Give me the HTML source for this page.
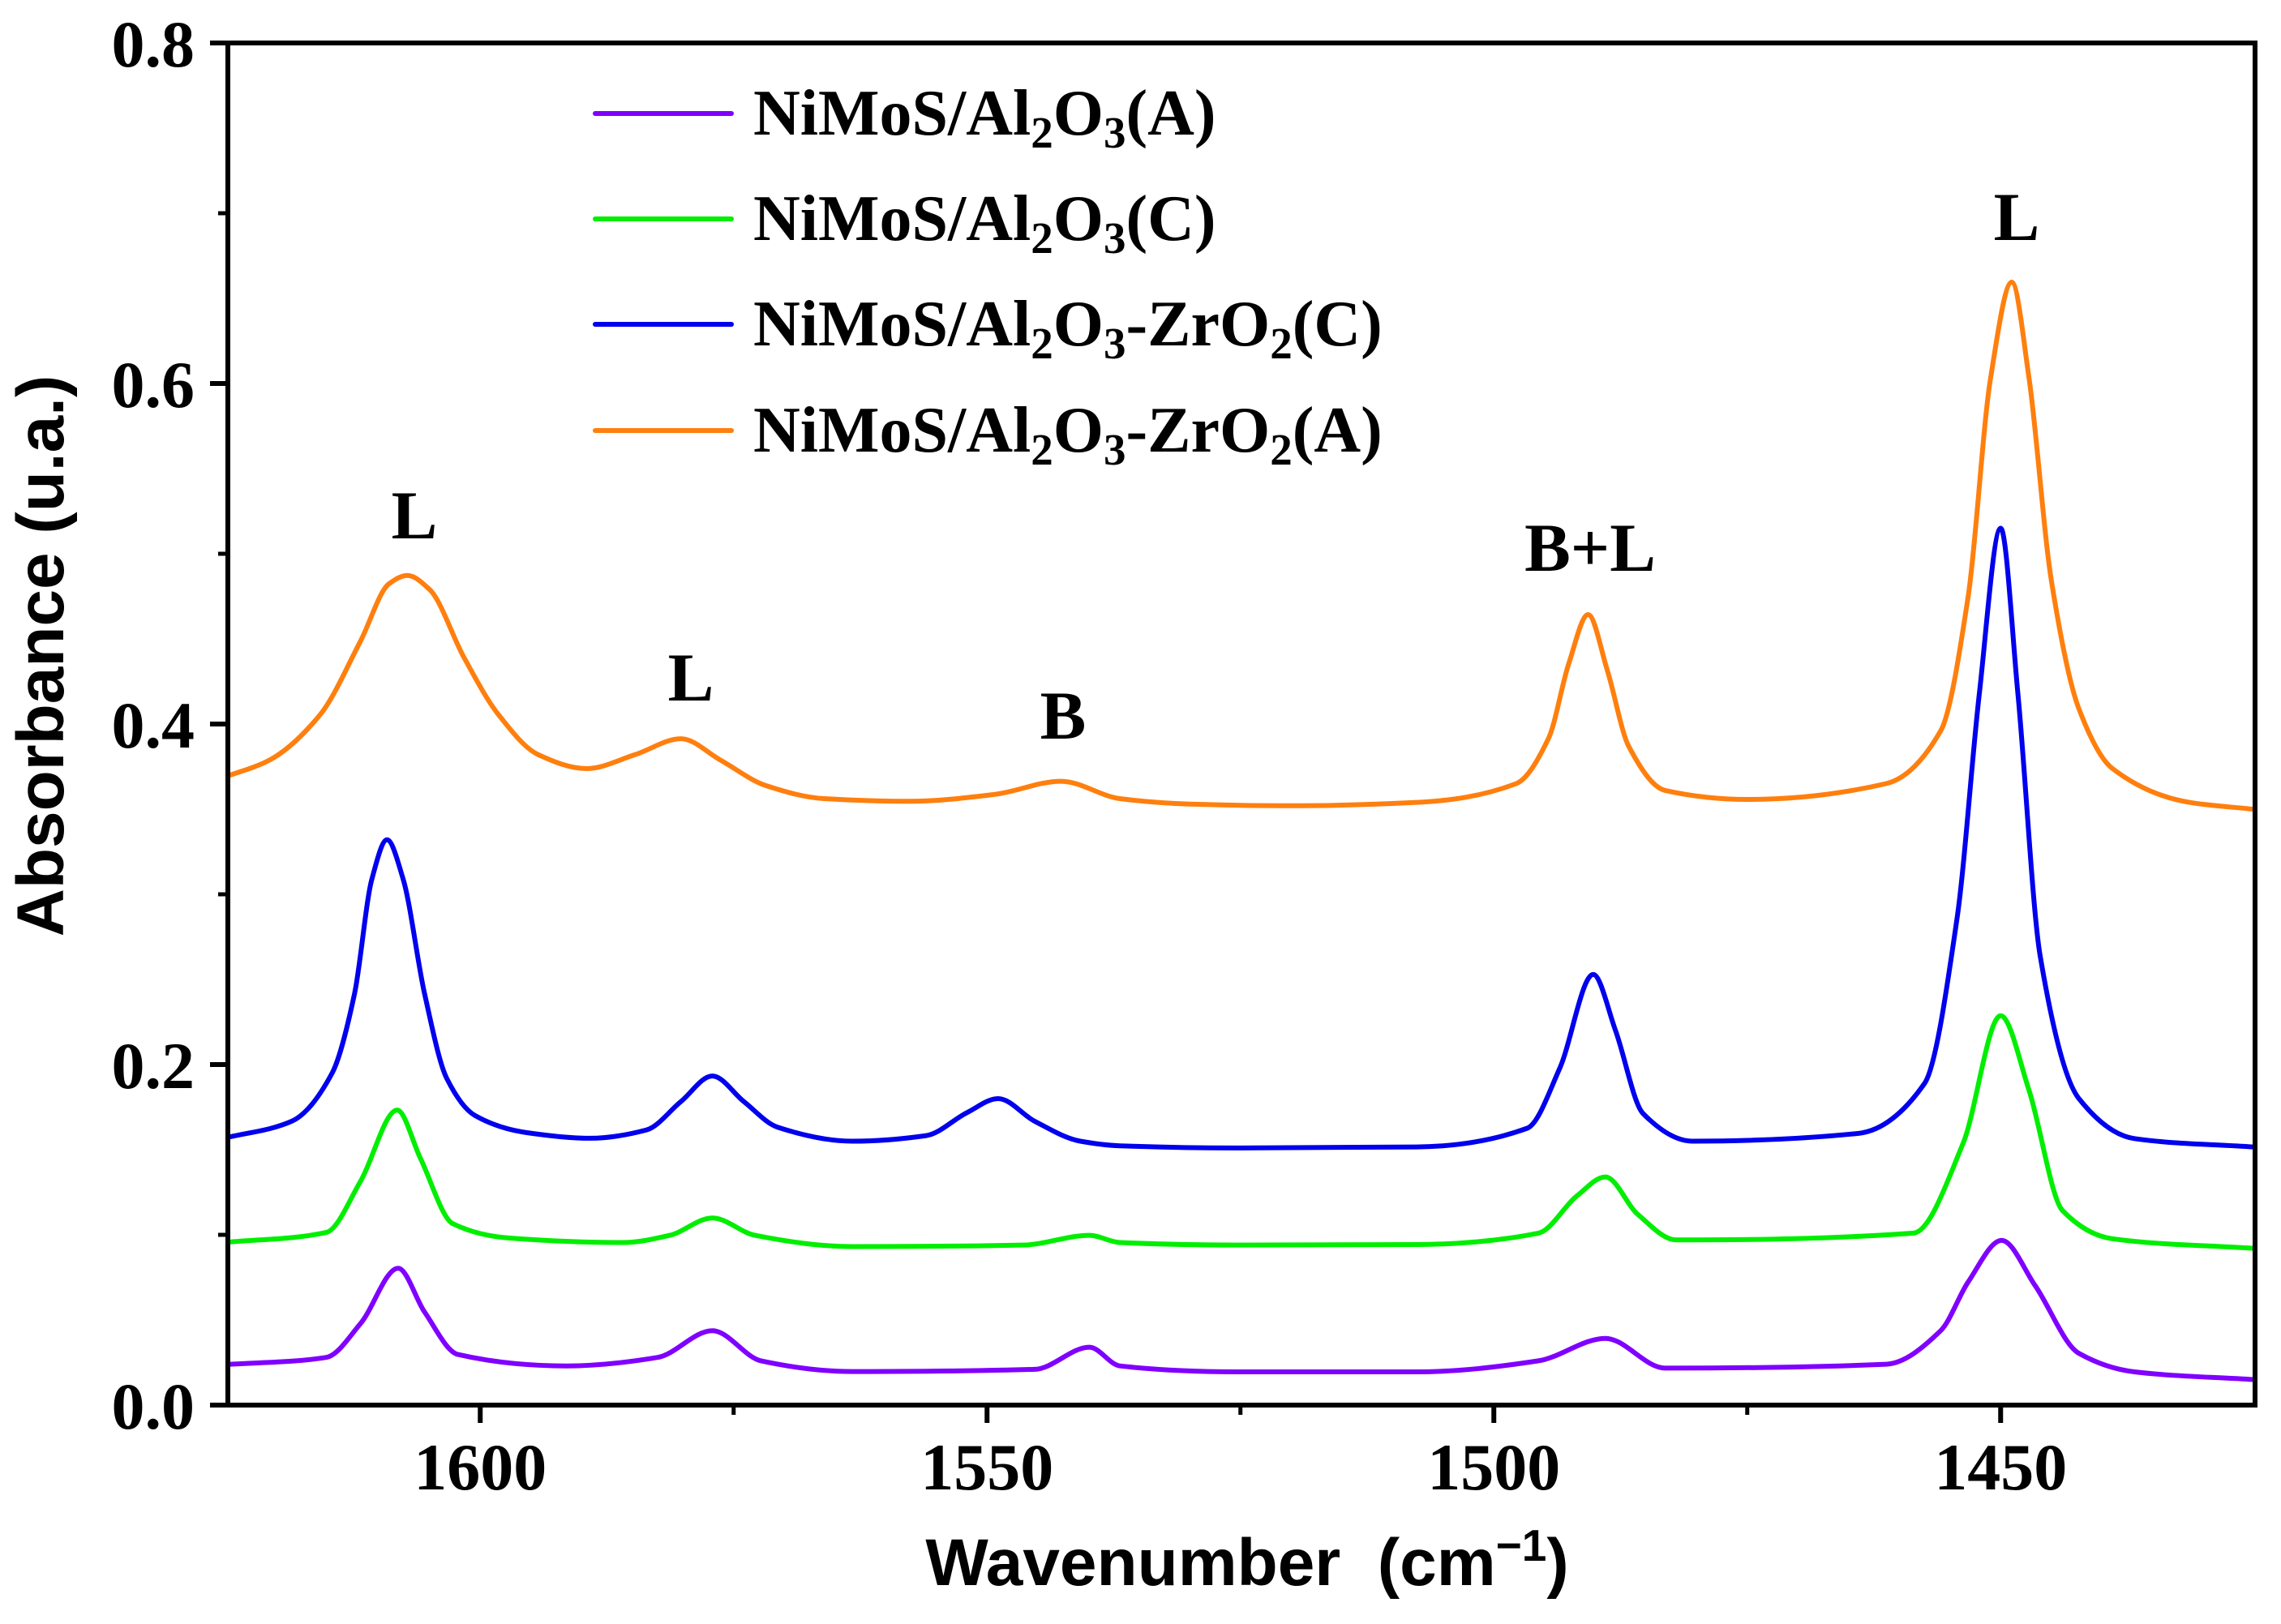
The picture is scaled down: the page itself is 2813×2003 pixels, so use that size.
<!DOCTYPE html>
<html><head><meta charset="utf-8"><style>
html,body{margin:0;padding:0;background:#fff}
svg{display:block}
</style></head><body>
<svg id="chart" width="2813" height="2003" viewBox="0 0 2813 2003" xmlns="http://www.w3.org/2000/svg">
<rect width="2813" height="2003" fill="#fff"/>
<g id="series"></g>
<g id="axes"></g>
<g id="legend" font-family="'Liberation Serif', serif" font-weight="bold" font-size="80">
  <line x1="734" y1="140" x2="902" y2="140" stroke="#8000ff" stroke-width="6" stroke-linecap="round"/>
  <text x="929" y="166">NiMoS/Al<tspan font-size="55" dy="16">2</tspan><tspan dy="-16">O</tspan><tspan font-size="55" dy="16">3</tspan><tspan dy="-16">(A)</tspan></text>
  <line x1="734" y1="270" x2="902" y2="270" stroke="#00ee00" stroke-width="6" stroke-linecap="round"/>
  <text x="929" y="296">NiMoS/Al<tspan font-size="55" dy="16">2</tspan><tspan dy="-16">O</tspan><tspan font-size="55" dy="16">3</tspan><tspan dy="-16">(C)</tspan></text>
  <line x1="734" y1="400" x2="902" y2="400" stroke="#0000ee" stroke-width="6" stroke-linecap="round"/>
  <text x="929" y="426">NiMoS/Al<tspan font-size="55" dy="16">2</tspan><tspan dy="-16">O</tspan><tspan font-size="55" dy="16">3</tspan><tspan dy="-16">-ZrO</tspan><tspan font-size="55" dy="16">2</tspan><tspan dy="-16">(C)</tspan></text>
  <line x1="734" y1="531" x2="902" y2="531" stroke="#ff7f0e" stroke-width="6" stroke-linecap="round"/>
  <text x="929" y="557">NiMoS/Al<tspan font-size="55" dy="16">2</tspan><tspan dy="-16">O</tspan><tspan font-size="55" dy="16">3</tspan><tspan dy="-16">-ZrO</tspan><tspan font-size="55" dy="16">2</tspan><tspan dy="-16">(A)</tspan></text>
</g>
<g font-family="'Liberation Serif', serif" font-weight="bold" font-size="85" text-anchor="middle">
  <text x="511" y="664">L</text>
  <text x="852" y="864">L</text>
  <text x="1311" y="911">B</text>
  <text x="1961" y="704">B+L</text>
  <text x="2487" y="296">L</text>
</g>
<text transform="translate(78,809) rotate(-90)" text-anchor="middle" font-family="'Liberation Sans', sans-serif" font-weight="bold" font-size="82">Absorbance (u.a.)</text>
<text x="1538" y="1955" text-anchor="middle" style="white-space:pre" font-family="'Liberation Sans', sans-serif" font-weight="bold" font-size="82">Wavenumber  (cm<tspan font-size="55" dy="-30">−1</tspan><tspan dy="30">)</tspan></text>
</svg>
<script>
// ---- data ----
const xTicks = [1600, 1550, 1500, 1450];
const xMinorTicks = [1575, 1525, 1475];
const yTicks = [0.0, 0.2, 0.4, 0.6, 0.8];
const yTickLabels = ["0.0", "0.2", "0.4", "0.6", "0.8"];
const yMinorTicks = [0.1, 0.3, 0.5, 0.7];

const purpleX = [1625.3,1615.2,1611.8,1608.1,1605.5,1602.2,1591.5,1582.5,1577.1,1572.3,1563.3,1545.3,1539.9,1536.9,1525,1507.6,1495.6,1489.0,1483.1,1461.3,1455.9,1453.2,1449.9,1446.6,1442.3,1436.8,1425.1];
const purpleY = [0.0237,0.028,0.048,0.0804,0.0547,0.0297,0.023,0.028,0.0437,0.026,0.0197,0.021,0.034,0.023,0.0195,0.0195,0.026,0.0392,0.0217,0.024,0.0438,0.0724,0.0967,0.0702,0.0305,0.0195,0.015];

const greenX = [1625.3,1615.2,1611.8,1608.2,1605.9,1602.7,1597.1,1585.9,1581.3,1577.1,1572.9,1563.3,1546.4,1539.9,1536.9,1525,1507.6,1495.6,1491.8,1489.0,1485.8,1482.0,1458.6,1453.7,1450.0,1447.2,1443.9,1439.0,1425.1];
const greenY = [0.0955,0.1014,0.1316,0.1733,0.1449,0.1065,0.0981,0.0955,0.0997,0.1099,0.0997,0.0931,0.094,0.0997,0.0955,0.094,0.0943,0.101,0.1229,0.134,0.112,0.097,0.101,0.1538,0.2287,0.1848,0.1143,0.0977,0.0921];

const blueX = [1625.3,1618.6,1614.6,1612.4,1610.7,1609.2,1607.6,1605.5,1603.3,1600.5,1595.4,1589.2,1583.6,1580.2,1577.1,1574.0,1570.7,1563.3,1556.0,1552.0,1548.9,1545.3,1540.8,1536.9,1525,1507.6,1496.7,1493.5,1490.2,1488.0,1485.3,1480.4,1464.1,1457.5,1454.3,1452.1,1450.0,1448.3,1446.1,1442.3,1436.8,1425.1];
const blueY = [0.1567,0.1667,0.1952,0.2418,0.3087,0.332,0.3087,0.2418,0.1918,0.17,0.16,0.1567,0.1616,0.1783,0.1933,0.1783,0.1633,0.155,0.1583,0.1717,0.18,0.1667,0.155,0.1523,0.151,0.1516,0.1626,0.1978,0.2529,0.22,0.1714,0.155,0.1595,0.189,0.2859,0.418,0.515,0.418,0.2638,0.1802,0.1565,0.1516];

const orangeX = [1625.3,1620.8,1615.8,1611.8,1609.0,1607.2,1605.0,1601.6,1598.2,1594.3,1589.5,1584.7,1580.2,1576.3,1571.8,1566.1,1557.6,1549.2,1542.7,1536.9,1530,1520,1507.6,1497.8,1494.6,1492.6,1490.7,1488.8,1486.7,1483.1,1474.9,1461.3,1455.9,1453.2,1451.0,1448.9,1447.2,1445.0,1442.3,1439.0,1431.4,1425.1];
const orangeY = [0.3687,0.3788,0.4055,0.4489,0.4824,0.4873,0.479,0.439,0.4055,0.3821,0.3738,0.3821,0.3914,0.3788,0.3638,0.3562,0.3546,0.3587,0.3664,0.3562,0.353,0.352,0.354,0.365,0.3917,0.4357,0.4643,0.4314,0.387,0.361,0.3557,0.365,0.3962,0.4752,0.603,0.6595,0.603,0.4843,0.4093,0.374,0.354,0.35];

// ---- axis functions ----
const X0 = 281, X1 = 2781, Y0 = 1733, Y1 = 53;
const XMAX = 1624.9, XMIN = 1424.9, YMIN = 0, YMAX = 0.8;
function sx(v){ return X0 + (XMAX - v) / (XMAX - XMIN) * (X1 - X0); }
function sy(v){ return Y0 - (v - YMIN) / (YMAX - YMIN) * (Y0 - Y1); }

const NS = "http://www.w3.org/2000/svg";
function mk(tag, attrs, parent){
  const e = document.createElementNS(NS, tag);
  for (const k in attrs) e.setAttribute(k, attrs[k]);
  parent.appendChild(e); return e;
}

// monotone cubic (Fritsch-Carlson) in screen space
function smoothPath(xs, ys){
  const px = xs.map(sx), py = ys.map(sy), n = px.length;
  const dx = [], m = [];
  for (let i=0;i<n-1;i++){ dx.push(px[i+1]-px[i]); m.push((py[i+1]-py[i])/dx[i]); }
  const t = new Array(n);
  t[0] = m[0]; t[n-1] = m[n-2];
  for (let i=1;i<n-1;i++){
    if (m[i-1]*m[i] <= 0) t[i] = 0;
    else {
      const w1 = 2*dx[i]+dx[i-1], w2 = dx[i]+2*dx[i-1];
      t[i] = (w1+w2)/(w1/m[i-1]+w2/m[i]);
    }
  }
  let d = "M"+px[0].toFixed(1)+","+py[0].toFixed(1);
  for (let i=0;i<n-1;i++){
    const h = dx[i]/3;
    d += " C"+(px[i]+h).toFixed(1)+","+(py[i]+t[i]*h).toFixed(1)+" "+(px[i+1]-h).toFixed(1)+","+(py[i+1]-t[i+1]*h).toFixed(1)+" "+px[i+1].toFixed(1)+","+py[i+1].toFixed(1);
  }
  return d;
}

const seriesG = document.getElementById("series");
const defs = [
  [purpleX, purpleY, "#8000ff", "series-al2o3-a"],
  [greenX, greenY, "#00ee00", "series-al2o3-c"],
  [blueX, blueY, "#0000ee", "series-al2o3-zro2-c"],
  [orangeX, orangeY, "#ff7f0e", "series-al2o3-zro2-a"]
];
const clip = mk("clipPath", {id:"plotclip"}, seriesG);
mk("rect", {x:X0, y:Y1, width:X1-X0, height:Y0-Y1}, clip);
for (const [xs, ys, col, name] of defs){
  const path = mk("path", {d: smoothPath(xs, ys), fill:"none", stroke: col, "stroke-width": 6, "stroke-linejoin":"round", "clip-path":"url(#plotclip)"}, seriesG);
  
  
}

// ---- axes ----
const ax = document.getElementById("axes");
const frame = mk("rect", {x:X0, y:Y1, width:X1-X0, height:Y0-Y1, fill:"none", stroke:"#000", "stroke-width":6}, ax);


for (const v of xTicks){
  const t = mk("line", {x1:sx(v), x2:sx(v), y1:Y0, y2:Y0+22, stroke:"#000", "stroke-width":6}, ax);
  
  
  const l = mk("text", {x:sx(v), y:1837, "text-anchor":"middle", "font-family":"'Liberation Serif', serif", "font-weight":"bold", "font-size":82}, ax);
  l.textContent = String(v);
  
  
}
for (const v of xMinorTicks){
  const t = mk("line", {x1:sx(v), x2:sx(v), y1:Y0, y2:Y0+12, stroke:"#000", "stroke-width":5}, ax);
  
  
}
yTicks.forEach((v,i)=>{
  const t = mk("line", {x1:X0-22, x2:X0, y1:sy(v), y2:sy(v), stroke:"#000", "stroke-width":6}, ax);
  
  
  const l = mk("text", {x:240, y:sy(v)+29, "text-anchor":"end", "font-family":"'Liberation Serif', serif", "font-weight":"bold", "font-size":82}, ax);
  l.textContent = yTickLabels[i];
  
  
});
for (const v of yMinorTicks){
  const t = mk("line", {x1:X0-12, x2:X0, y1:sy(v), y2:sy(v), stroke:"#000", "stroke-width":5}, ax);
  
  
}
</script>
</body></html>
